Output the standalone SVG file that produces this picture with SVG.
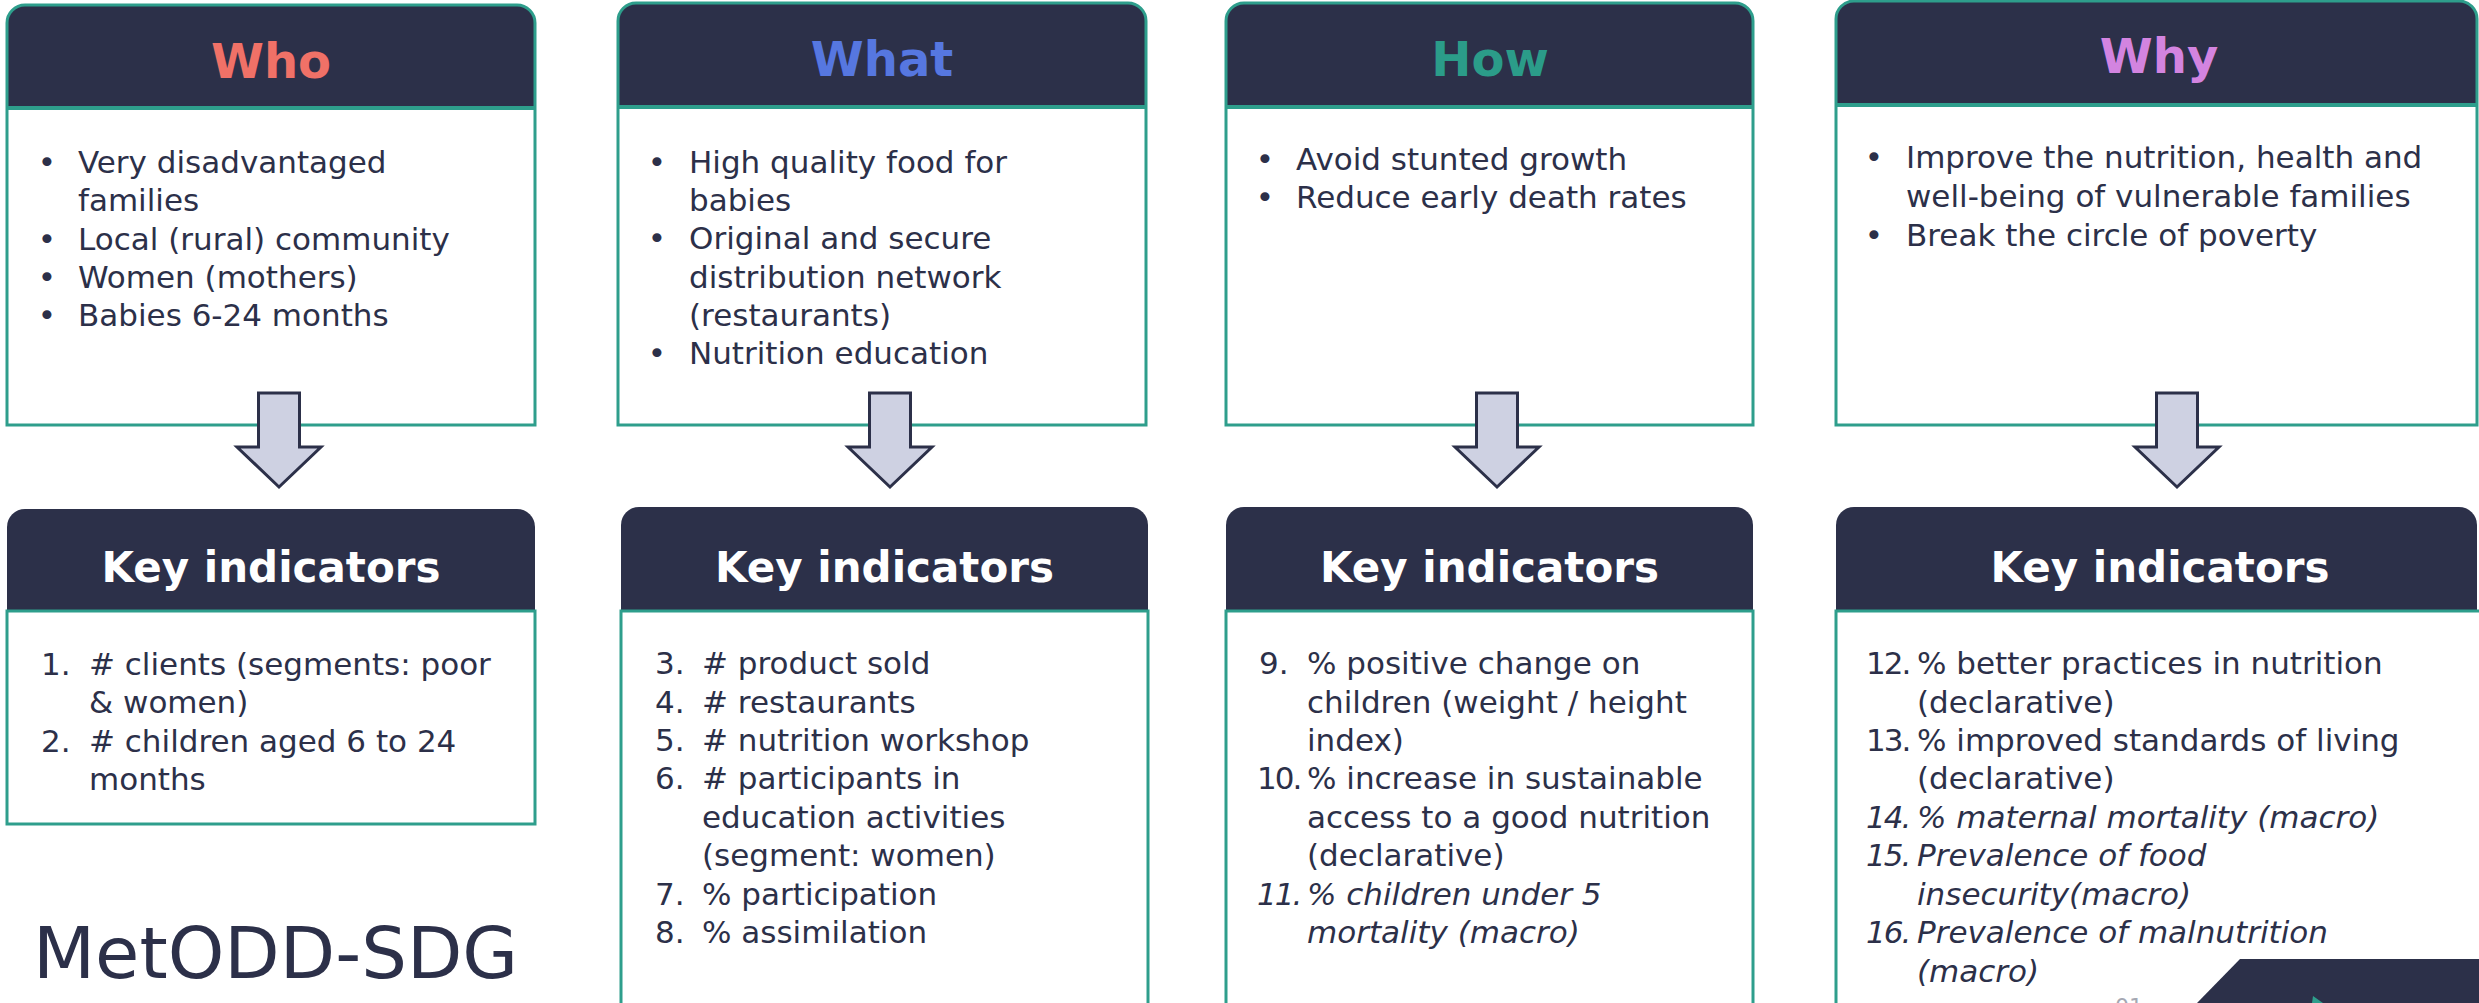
<svg xmlns="http://www.w3.org/2000/svg" width="2479" height="1003" viewBox="0 0 2479 1003">
  <style>
    .bg{fill:#ffffff}
    .hdr{fill:#2c3049}
    .body{fill:#ffffff}
    .frame{fill:none;stroke:#2e9e8c;stroke-width:3}
    .rule{stroke:#2e9e8c;stroke-width:4}
    .title{font-family:"DejaVu Sans",sans-serif;font-weight:bold;font-size:48px;text-anchor:middle}
    .kt{font-family:"DejaVu Sans",sans-serif;font-weight:bold;font-size:42px;text-anchor:middle;fill:#ffffff}
    .txt{font-family:"DejaVu Sans",sans-serif;font-size:31px;fill:#2c3049}
    .bul{font-family:"DejaVu Sans",sans-serif;font-size:31px;fill:#2c3049;text-anchor:middle}
    .it{font-style:italic}
    .n2{letter-spacing:-2px}
    .arrow{fill:#ced1e2;stroke:#2c3049;stroke-width:3;stroke-linejoin:miter}
  </style>

  <rect class="bg" x="0" y="0" width="2479" height="1003"/>

  <!-- Who -->
  <g id="who">
    <rect class="body" x="7" y="5" width="528" height="420"/>
    <path class="hdr" d="M7,108 V23 A18,18 0 0 1 25,5 H517 A18,18 0 0 1 535,23 V108 Z"/>
    <path class="frame" d="M7,425 V23 A18,18 0 0 1 25,5 H517 A18,18 0 0 1 535,23 V425 Z"/>
    <line class="rule" x1="7" y1="108" x2="535" y2="108"/>
    <text class="title" x="271" y="78" fill="#f07167">Who</text>
    <text class="bul" x="47" y="173">•</text>
    <text class="txt" x="78" y="173">Very disadvantaged</text>
    <text class="txt" x="78" y="211">families</text>
    <text class="bul" x="47" y="250">•</text>
    <text class="txt" x="78" y="250">Local (rural) community</text>
    <text class="bul" x="47" y="288">•</text>
    <text class="txt" x="78" y="288">Women (mothers)</text>
    <text class="bul" x="47" y="326">•</text>
    <text class="txt" x="78" y="326">Babies 6-24 months</text>
  </g>

  <!-- What -->
  <g id="what">
    <rect class="body" x="618" y="3" width="528" height="422"/>
    <path class="hdr" d="M618,107 V21 A18,18 0 0 1 636,3 H1128 A18,18 0 0 1 1146,21 V107 Z"/>
    <path class="frame" d="M618,425 V21 A18,18 0 0 1 636,3 H1128 A18,18 0 0 1 1146,21 V425 Z"/>
    <line class="rule" x1="618" y1="107" x2="1146" y2="107"/>
    <text class="title" x="882" y="76" fill="#5677e0">What</text>
    <text class="bul" x="657" y="173">•</text>
    <text class="txt" x="689" y="173">High quality food for</text>
    <text class="txt" x="689" y="211">babies</text>
    <text class="bul" x="657" y="249">•</text>
    <text class="txt" x="689" y="249">Original and secure</text>
    <text class="txt" x="689" y="288">distribution network</text>
    <text class="txt" x="689" y="326">(restaurants)</text>
    <text class="bul" x="657" y="364">•</text>
    <text class="txt" x="689" y="364">Nutrition education</text>
  </g>

  <!-- How -->
  <g id="how">
    <rect class="body" x="1226" y="3" width="527" height="422"/>
    <path class="hdr" d="M1226,107 V21 A18,18 0 0 1 1244,3 H1735 A18,18 0 0 1 1753,21 V107 Z"/>
    <path class="frame" d="M1226,425 V21 A18,18 0 0 1 1244,3 H1735 A18,18 0 0 1 1753,21 V425 Z"/>
    <line class="rule" x1="1226" y1="107" x2="1753" y2="107"/>
    <text class="title" x="1490" y="76" fill="#2b9c89">How</text>
    <text class="bul" x="1265" y="170">•</text>
    <text class="txt" x="1296" y="170">Avoid stunted growth</text>
    <text class="bul" x="1265" y="208">•</text>
    <text class="txt" x="1296" y="208">Reduce early death rates</text>
  </g>

  <!-- Why -->
  <g id="why">
    <rect class="body" x="1836" y="1" width="641" height="424"/>
    <path class="hdr" d="M1836,105 V19 A18,18 0 0 1 1854,1 H2459 A18,18 0 0 1 2477,19 V105 Z"/>
    <path class="frame" d="M1836,425 V19 A18,18 0 0 1 1854,1 H2459 A18,18 0 0 1 2477,19 V425 Z"/>
    <line class="rule" x1="1836" y1="105" x2="2477" y2="105"/>
    <text class="title" x="2159" y="73" fill="#d384e0">Why</text>
    <text class="bul" x="1874" y="168">•</text>
    <text class="txt" x="1906" y="168">Improve the nutrition, health and</text>
    <text class="txt" x="1906" y="207">well-being of vulnerable families</text>
    <text class="bul" x="1874" y="246">•</text>
    <text class="txt" x="1906" y="246">Break the circle of poverty</text>
  </g>

  <!-- Down arrows linking each box to its indicators -->
  <g id="connectors">
    <path class="arrow" d="M258.5,393 H299.5 V447 H321 L279,487 L237,447 H258.5 Z"/>
    <path class="arrow" d="M869.5,393 H910.5 V447 H932 L890,487 L848,447 H869.5 Z"/>
    <path class="arrow" d="M1476.5,393 H1517.5 V447 H1539 L1497,487 L1455,447 H1476.5 Z"/>
    <path class="arrow" d="M2156.5,393 H2197.5 V447 H2219 L2177,487 L2135,447 H2156.5 Z"/>
  </g>

  <!-- Key indicators: Who -->
  <g id="kpi-who">
    <path class="hdr" d="M7,611 V527 A18,18 0 0 1 25,509 H517 A18,18 0 0 1 535,527 V611 Z"/>
    <rect class="body" x="7" y="611" width="528" height="213"/>
    <rect class="frame" x="7" y="611" width="528" height="213"/>
    <text class="kt" x="271" y="582">Key indicators</text>
    <text class="txt" x="41" y="675">1.</text>
    <text class="txt" x="89" y="675"># clients (segments: poor</text>
    <text class="txt" x="89" y="713">&amp; women)</text>
    <text class="txt" x="41" y="752">2.</text>
    <text class="txt" x="89" y="752"># children aged 6 to 24</text>
    <text class="txt" x="89" y="790">months</text>
  </g>

  <!-- Key indicators: What -->
  <g id="kpi-what">
    <path class="hdr" d="M621,611 V525 A18,18 0 0 1 639,507 H1130 A18,18 0 0 1 1148,525 V611 Z"/>
    <rect class="body" x="621" y="611" width="527" height="400"/>
    <rect class="frame" x="621" y="611" width="527" height="400"/>
    <text class="kt" x="884.5" y="582">Key indicators</text>
    <text class="txt" x="655" y="674">3.</text>
    <text class="txt" x="702" y="674"># product sold</text>
    <text class="txt" x="655" y="713">4.</text>
    <text class="txt" x="702" y="713"># restaurants</text>
    <text class="txt" x="655" y="751">5.</text>
    <text class="txt" x="702" y="751"># nutrition workshop</text>
    <text class="txt" x="655" y="789">6.</text>
    <text class="txt" x="702" y="789"># participants in</text>
    <text class="txt" x="702" y="828">education activities</text>
    <text class="txt" x="702" y="866">(segment: women)</text>
    <text class="txt" x="655" y="905">7.</text>
    <text class="txt" x="702" y="905">% participation</text>
    <text class="txt" x="655" y="943">8.</text>
    <text class="txt" x="702" y="943">% assimilation</text>
  </g>

  <!-- Key indicators: How -->
  <g id="kpi-how">
    <path class="hdr" d="M1226,611 V525 A18,18 0 0 1 1244,507 H1735 A18,18 0 0 1 1753,525 V611 Z"/>
    <rect class="body" x="1226" y="611" width="527" height="400"/>
    <rect class="frame" x="1226" y="611" width="527" height="400"/>
    <text class="kt" x="1489.5" y="582">Key indicators</text>
    <text class="txt" x="1259" y="674">9.</text>
    <text class="txt" x="1307" y="674">% positive change on</text>
    <text class="txt" x="1307" y="713">children (weight / height</text>
    <text class="txt" x="1307" y="751">index)</text>
    <text class="txt n2" x="1257" y="789">10.</text>
    <text class="txt" x="1307" y="789">% increase in sustainable</text>
    <text class="txt" x="1307" y="828">access to a good nutrition</text>
    <text class="txt" x="1307" y="866">(declarative)</text>
    <text class="txt it n2" x="1257" y="905">11.</text>
    <text class="txt it" x="1307" y="905">% children under 5</text>
    <text class="txt it" x="1307" y="943">mortality (macro)</text>
  </g>

  <!-- Key indicators: Why -->
  <g id="kpi-why">
    <path class="hdr" d="M1836,611 V525 A18,18 0 0 1 1854,507 H2459 A18,18 0 0 1 2477,525 V611 Z"/>
    <rect class="body" x="1836" y="611" width="660" height="400"/>
    <rect class="frame" x="1836" y="611" width="660" height="400"/>
    <text class="kt" x="2160" y="582">Key indicators</text>
    <text class="txt n2" x="1866" y="674">12.</text>
    <text class="txt" x="1917" y="674">% better practices in nutrition</text>
    <text class="txt" x="1917" y="713">(declarative)</text>
    <text class="txt n2" x="1866" y="751">13.</text>
    <text class="txt" x="1917" y="751">% improved standards of living</text>
    <text class="txt" x="1917" y="789">(declarative)</text>
    <text class="txt it n2" x="1866" y="828">14.</text>
    <text class="txt it" x="1917" y="828">% maternal mortality (macro)</text>
    <text class="txt it n2" x="1866" y="866">15.</text>
    <text class="txt it" x="1917" y="866">Prevalence of food</text>
    <text class="txt it" x="1917" y="905">insecurity(macro)</text>
    <text class="txt it n2" x="1866" y="943">16.</text>
    <text class="txt it" x="1917" y="943">Prevalence of malnutrition</text>
    <text class="txt it" x="1917" y="982">(macro)</text>
  </g>

  <!-- Brand and footer -->
  <g id="brand">
    <text x="33" y="978" font-family="DejaVu Sans, sans-serif" font-size="72" fill="#2c3049">MetODD-SDG</text>
  </g>
  <g id="footer">
    <text x="2115" y="1014" font-family="DejaVu Sans, sans-serif" font-size="22" fill="#a5a8b3">01</text>
    <polygon points="2240,959 2479,959 2479,1003 2197,1003" fill="#2c3049"/>
    <polygon points="2312,1003 2313,996 2323,1003" fill="#2e9e8c"/>
  </g>
</svg>
